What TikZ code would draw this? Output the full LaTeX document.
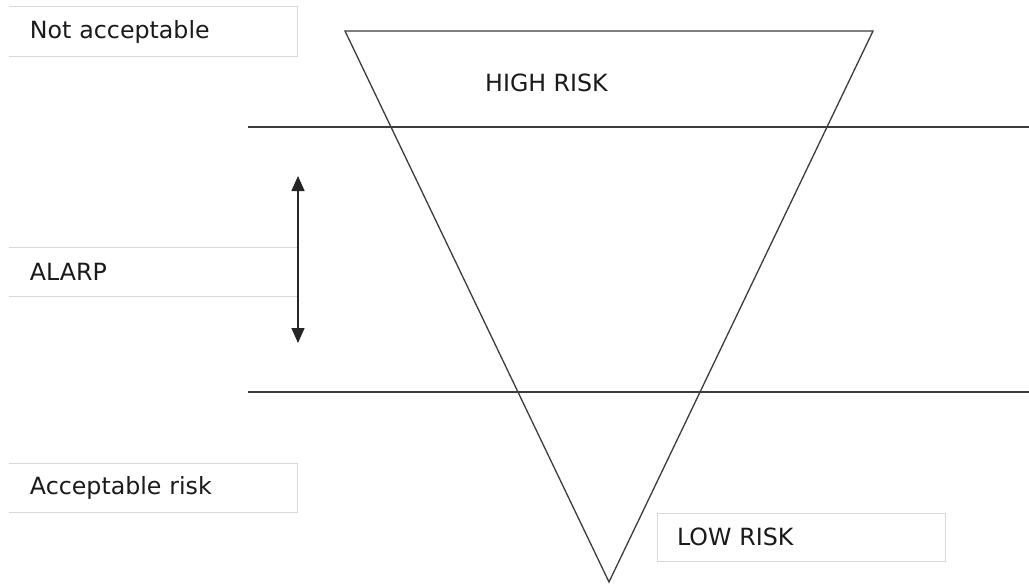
\documentclass[tikz,border=0pt]{standalone}
\usepackage{fontspec}
\setmainfont{DejaVu Sans}
\usetikzlibrary{arrows.meta}
\definecolor{boxgray}{HTML}{D9D9D9}
\definecolor{linegray}{HTML}{3C3C3C}
\definecolor{txt}{HTML}{1A1A1A}
\begin{document}
\begin{tikzpicture}[x=1pt,y=-1pt,
  labfont/.style={font=\fontsize{23.7}{28}\selectfont, text=txt},
  lbox/.style={labfont, minimum height=49pt, text width=246pt, inner xsep=21pt, inner ysep=0pt, align=left},
  rbox/.style={labfont, draw=boxgray, line width=1pt, minimum height=48pt, text width=248pt, inner xsep=20pt, inner ysep=0pt, align=left},
  mainline/.style={draw=linegray, line width=1.3pt},
  dbl/.style={draw=black!85, line width=1.6pt, {Triangle[width=13pt,length=15pt]}-{Triangle[width=13pt,length=15pt]}}
]
\useasboundingbox (0,0) rectangle (1029,584);
\fill[white] (0,0) rectangle (1029,584);

% label boxes (open on the left)
\node[lbox] (na) at (153,31.5) {Not acceptable};
\node[lbox] (al) at (153,272) {ALARP};
\node[lbox] (ac) at (153,488) {Acceptable risk};
\foreach \b in {na,al,ac}{
  \draw[boxgray, line width=1pt] (\b.north west) -- (\b.north east) -- (\b.south east) -- (\b.south west);
}
\node[rbox] (lr) at (801,537) {LOW RISK};

% triangle
\coordinate (tl) at (345,31);
\coordinate (tr) at (873,31);
\coordinate (ap) at (609,582);
\draw[mainline, line join=miter] (tl) -- (tr) -- (ap) -- cycle;

% horizontal lines
\coordinate (h1a) at (248,127);
\coordinate (h1b) at (1029,127);
\coordinate (h2a) at (248,392);
\coordinate (h2b) at (1029,392);
\draw[mainline] (h1a) -- (h1b);
\draw[mainline] (h2a) -- (h2b);

% high risk label
\node[labfont, anchor=base west, inner sep=0pt] (hr) at (485,91) {HIGH RISK};

% ALARP arrow
\coordinate (aT) at (298,176);
\coordinate (aB) at (298,343);
\draw[dbl] (aT) -- (aB);
\end{tikzpicture}
\end{document}
